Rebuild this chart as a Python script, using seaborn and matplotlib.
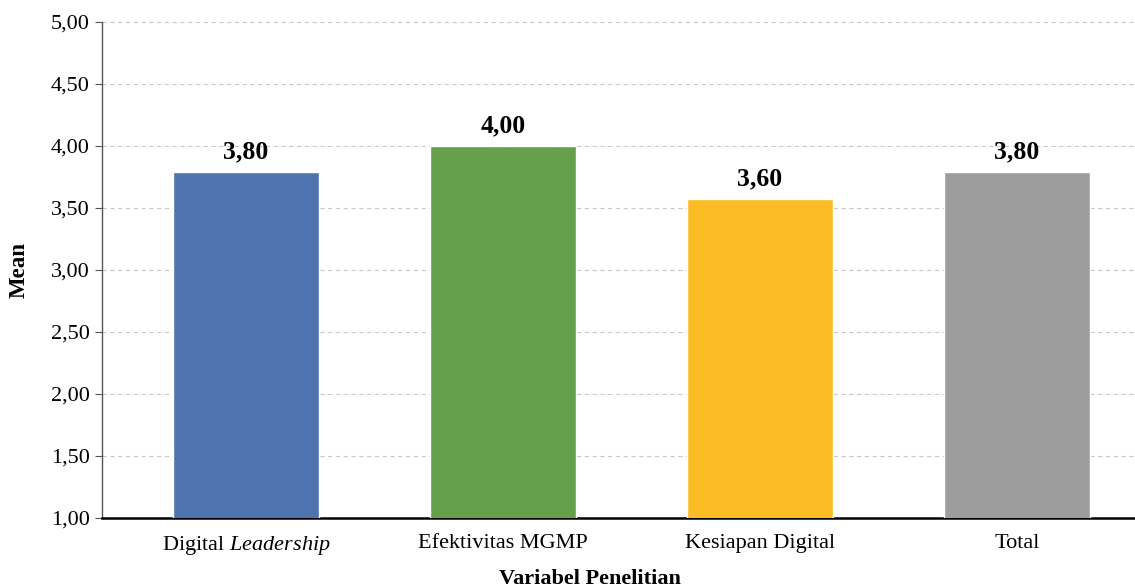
import matplotlib
matplotlib.use("Agg")
import matplotlib.pyplot as plt
import seaborn as sns
import pandas as pd

# data
categories = ["Digital Leadership", "Efektivitas MGMP", "Kesiapan Digital", "Total"]
tick_labels = ["Digital $\\it{Leadership}$", "Efektivitas MGMP", "Kesiapan Digital", "Total"]
means = [3.79, 4.00, 3.57, 3.79]
value_labels = ["3,80", "4,00", "3,60", "3,80"]
colors = ["#4F73AF", "#67A04A", "#FBBC26", "#9D9D9D"]

df = pd.DataFrame({"Variabel": categories, "Mean": means})

sns.set_style("white")
plt.rcParams["font.family"] = ["Liberation Serif", "DejaVu Serif"]
plt.rcParams["mathtext.fontset"] = "custom"
plt.rcParams["mathtext.it"] = "Liberation Serif:italic"
plt.rcParams["mathtext.rm"] = "Liberation Serif"
plt.rcParams["text.color"] = "black"
plt.rcParams["axes.labelcolor"] = "black"
plt.rcParams["xtick.color"] = "black"
plt.rcParams["ytick.color"] = "black"

fig = plt.figure(figsize=(11.35, 5.88), dpi=100)
ax = fig.add_axes([0.0899, 0.119, 0.9101, 0.8437])

sns.barplot(data=df, x="Variabel", y="Mean", hue="Variabel", palette=colors,
            width=0.57, legend=False, ax=ax, zorder=3, saturation=1)

ax.set_ylim(1.0, 5.0)
ax.set_xlim(-0.56, 3.46)
yt = [1.0 + 0.5 * i for i in range(9)]
ax.set_yticks(yt)
ax.set_yticklabels([f"{v:.2f}".replace(".", ",") for v in yt], fontsize=16)
ax.set_xticks(range(len(categories)))
ax.set_xticklabels(tick_labels, fontsize=16)
ax.grid(axis="y", color="#C8C8C8", linestyle=(0, (4, 3)), linewidth=0.8, zorder=0)
ax.set_axisbelow(True)

for i, (v, lab) in enumerate(zip(means, value_labels)):
    ax.text(i, v + 0.07, lab, ha="center", va="bottom", fontsize=18.5, fontweight="bold")

for s in ["top", "right"]:
    ax.spines[s].set_visible(False)
ax.spines["left"].set_color("#555555")
ax.spines["left"].set_linewidth(1.0)
ax.spines["bottom"].set_color("black")
ax.spines["bottom"].set_linewidth(1.8)
ax.tick_params(axis="y", left=True, length=5, color="#555555", labelcolor="black", pad=4)
ax.tick_params(axis="x", bottom=False, labelcolor="black", pad=8)

ax.set_ylabel("Mean", fontsize=16.5, fontweight="bold")
ax.set_xlabel("Variabel Penelitian", fontsize=16, fontweight="bold")
ax.yaxis.set_label_coords(-0.07, 0.5)
ax.xaxis.set_label_coords(0.472, -0.102)

fig.savefig("out.png", dpi=100)
